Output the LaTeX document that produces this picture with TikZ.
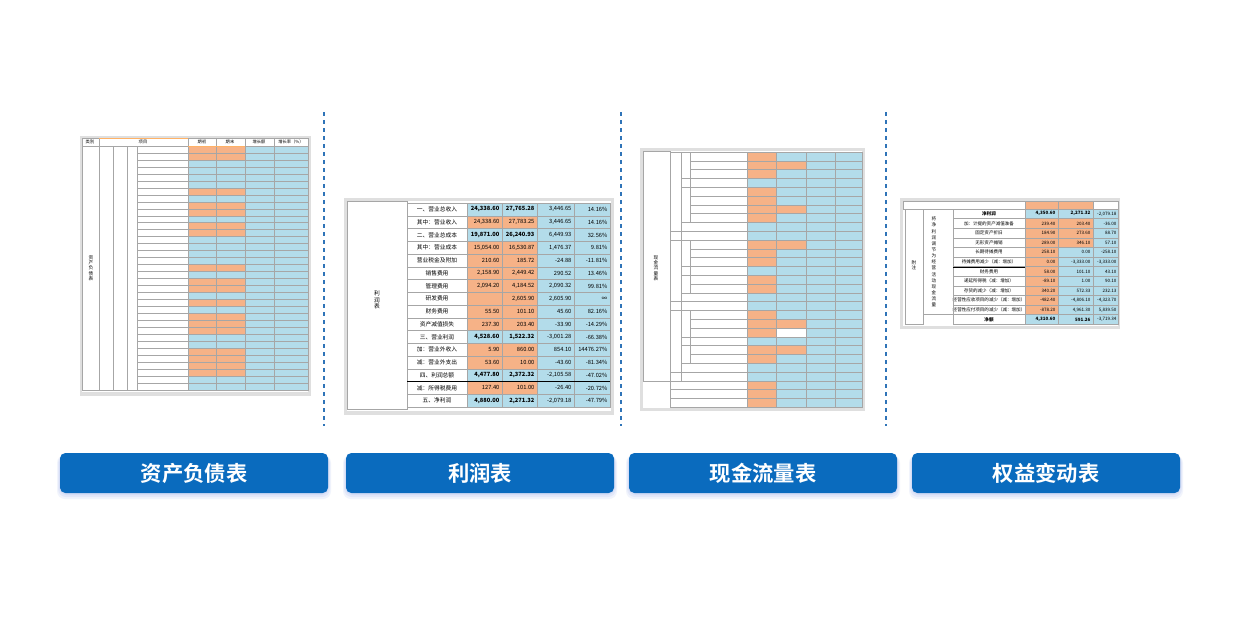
\documentclass[tikz,border=0pt]{standalone}
\usepackage{fontspec}
\setmainfont{Noto Sans CJK SC}
\newfontfamily\cjkb{Noto Sans CJK SC Bold}
\begin{document}
\definecolor{tOr}{HTML}{F6B287}
\definecolor{tBl}{HTML}{B3DCEA}
\definecolor{btn}{HTML}{0A6BBE}
\definecolor{dash}{HTML}{2F74B8}
\definecolor{shd}{HTML}{C9D4F4}
\newcommand\drow[9]{%
  \fill[#8] (#1,#6) rectangle (#2,{#6+#7});
  \fill[#9] (#2,#6) rectangle (#3,{#6+#7});
  \fill[tBl] (#3,#6) rectangle (#5,{#6+#7});
  \draw[gridl] (#1,#6) rectangle (#2,{#6+#7}) (#2,#6) rectangle (#3,{#6+#7})
     (#3,#6) rectangle (#4,{#6+#7}) (#4,#6) rectangle (#5,{#6+#7});}
\begin{tikzpicture}[x=0.75pt,y=-0.75pt,
  gridl/.style={draw=gray!70,line width=0.3pt},
  frame/.style={draw=gray!60,fill=white,line width=0.4pt,drop shadow={opacity=0.25,shadow xshift=0pt,shadow yshift=-1pt}},
  button/.style={rounded corners=4pt,fill=btn,text=white,minimum width=268*0.75pt,minimum height=40*0.75pt,
    font=\cjkb\fontsize{16}{16}\selectfont},
  sep/.style={draw=dash,line width=0.9pt,dash pattern=on 3pt off 3pt},
  tt/.style={font=\fontsize{4.3}{4.3}\selectfont,inner sep=1pt},
  vt/.style={font=\fontsize{4.3}{5}\selectfont,align=center,inner sep=0pt}]
\useasboundingbox (0,0) rectangle (1248,633);
\fill[white] (0,0) rectangle (1248,633);
\usetikzlibrary{shadows}
% separators
\foreach \x/\n in {324/s1,621/s2,886/s3}{
  \coordinate (\n a) at (\x,112); \coordinate (\n b) at (\x,426);
  \draw[sep] (\n a) -- (\n b);}
% buttons with shadow
\foreach \x/\n/\t in {194/b1/资产负债表,480/b2/利润表,763/b3/现金流量表,1046/b4/权益变动表}{
  \foreach \k/\o in {6/0.25,4/0.35,2/0.5}
    \fill[shd,opacity=\o,rounded corners=6pt] (\x-134-\k/2,455) rectangle (\x+134+\k/2,493+\k);
  \node[button] (\n) at (\x,473) {\t};}
%% ---------- Table 1 ----------
\fill[gray!25] (80,136) rectangle (311,396);
\fill[white] (82,138) rectangle (308,392);
\foreach \ca/\cb [count=\i] in {tOr/tOr,tOr/tOr,tBl/tBl,tBl/tBl,tBl/tBl,tBl/tBl,tOr/tOr,tBl/tBl,tOr/tOr,tOr/tOr,tBl/tBl,tOr/tOr,tOr/tOr,tBl/tBl,tBl/tBl,tBl/tBl,tBl/tBl,tOr/tOr,tBl/tBl,tOr/tOr,tOr/tOr,tBl/tBl,tOr/tOr,tBl/tBl,tOr/tOr,tOr/tOr,tOr/tOr,tBl/tBl,tBl/tBl,tOr/tOr,tOr/tOr,tOr/tOr,tOr/tOr,tBl/tBl,tBl/tBl}{
  \pgfmathsetmacro\yy{146+(\i-1)*6.97}
  \drow{188}{216}{245}{274}{308}{\yy}{6.97}{\ca}{\cb}
  \draw[gridl] (137,\yy) -- (188,\yy);}
\draw[gridl] (82,138) rectangle (308,390);
\foreach \x in {99,113,127,137,188,216,245,274}\draw[gridl] (\x,146) -- (\x,390);
\draw[gridl] (82,146) -- (308,146) (99,138)--(99,146) (188,138)--(188,146) (216,138)--(216,146) (245,138)--(245,146) (274,138)--(274,146);
\draw[orange!60,line width=0.6pt] (99,138) -- (188,138) (188,146)--(245,146);
\node[tt,font=\fontsize{3.2}{3.2}\selectfont] at (90,142) {类别};
\node[tt,font=\fontsize{3.2}{3.2}\selectfont] at (143,142) {项目};
\node[tt,font=\fontsize{3.2}{3.2}\selectfont] at (202,142) {期初};
\node[tt,font=\fontsize{3.2}{3.2}\selectfont] at (230,142) {期末};
\node[tt,font=\fontsize{3.2}{3.2}\selectfont] at (259,142) {增长额};
\node[tt,font=\fontsize{3.2}{3.2}\selectfont] at (291,142) {增长率（\%）};
\node[vt,font=\fontsize{3.5}{4}\selectfont] at (91,268) {资\\产\\负\\债\\表};
%% ---------- Table 2 ----------
\fill[gray!25] (344,198) rectangle (614,415);
\fill[white] (347,201) rectangle (611,411);
\draw[gridl] (347,201) rectangle (407,409);
\node[vt] at (377,300) {利\\润\\表};
\foreach \ca/\cb/\it/\a/\b/\c/\d/\bf [count=\i] in {
 tBl/tBl/一、营业总收入/24{,}338.60/27{,}765.28/3{,}446.65/14.16\%/1,
 tOr/tOr/其中：营业收入/24{,}338.60/27{,}783.25/3{,}446.65/14.16\%/0,
 tBl/tBl/二、营业总成本/19{,}871.00/26{,}240.93/6{,}449.93/32.56\%/1,
 tOr/tOr/其中：营业成本/15{,}054.00/16{,}530.87/1{,}476.37/9.81\%/0,
 tOr/tOr/营业税金及附加/210.60/185.72/-24.88/-11.81\%/0,
 tOr/tOr/销售费用/2{,}158.90/2{,}449.42/290.52/13.46\%/0,
 tOr/tOr/管理费用/2{,}094.20/4{,}184.52/2{,}090.32/99.81\%/0,
 tOr/tOr/研发费用//2{,}605.90/2{,}605.90/∞/0,
 tOr/tOr/财务费用/55.50/101.10/45.60/82.16\%/0,
 tOr/tOr/资产减值损失/237.30/203.40/-33.90/-14.29\%/0,
 tBl/tBl/三、营业利润/4{,}528.60/1{,}522.32/-3{,}001.28/-66.38\%/1,
 tOr/tOr/加：营业外收入/5.90/860.00/854.10/14476.27\%/0,
 tOr/tOr/减：营业外支出/53.60/10.00/-43.60/-81.34\%/0,
 tBl/tBl/四、利润总额/4{,}477.80/2{,}372.32/-2{,}105.58/-47.02\%/1,
 tOr/tOr/减：所得税费用/127.40/101.00/-26.40/-20.72\%/0,
 tBl/tBl/五、净利润/4{,}880.00/2{,}271.32/-2{,}079.18/-47.79\%/1}{
  \pgfmathsetmacro\yy{203+(\i-1)*12.75}
  \drow{467}{502}{537}{574}{610}{\yy}{12.75}{\ca}{\cb}
  \draw[gridl] (407,\yy) rectangle (467,\yy+12.75);
  \pgfmathsetmacro\ym{\yy+6.4}
  \node[tt] at (437,\ym) {\it};
  \ifnum\bf=1 \def\ff{\bfseries}\else\def\ff{}\fi
  \node[tt,anchor=east] at (501,\ym) {\ff\a};
  \node[tt,anchor=east] at (536,\ym) {\ff\b};
  \node[tt,anchor=east] at (573,\ym) {\c};
  \node[tt,anchor=east] at (609,\ym) {\d};}
\draw[black,line width=0.6pt] (407,381.5) -- (610,381.5);
%% ---------- Table 3 ----------
\fill[gray!25] (640,148) rectangle (865,411);
\fill[white] (643,151) rectangle (862,408);
\foreach \ca/\cb/\k [count=\i] in {tOr/tBl/0,tOr/tOr/0,tOr/tBl/0,tBl/tBl/1,tOr/tBl/0,tOr/tBl/0,tOr/tOr/0,tOr/tBl/0,tBl/tBl/1,tBl/tBl/2,tOr/tOr/0,tOr/tBl/0,tOr/tBl/0,tBl/tBl/1,tOr/tBl/0,tOr/tBl/0,tBl/tBl/1,tBl/tBl/2,tOr/tBl/0,tOr/tOr/0,tOr/white/0,tBl/tBl/1,tOr/tOr/0,tOr/tBl/0,tBl/tBl/1,tBl/tBl/2,tOr/tBl/3,tOr/tBl/3,tOr/tBl/3}{
  \pgfmathsetmacro\yy{152+(\i-1)*8.8}
  \drow{747}{776}{806}{835}{862}{\yy}{8.8}{\ca}{\cb}
  \ifnum\k=0 \draw[gridl] (690,\yy) rectangle (747,\yy+8.8);\fi
  \ifnum\k=1 \draw[gridl] (681,\yy) rectangle (747,\yy+8.8);\fi
  \ifnum\k=2 \draw[gridl] (670,\yy) rectangle (747,\yy+8.8);\fi
  \ifnum\k=3 \draw[gridl] (670,\yy) rectangle (747,\yy+8.8);\fi}
\draw[gridl] (643,151) rectangle (670,381.2);
\foreach \t/\b in {152/240,240/310.4,310.4/381.2}\draw[gridl] (670,\t) rectangle (681,\b);
\foreach \t/\b in {152/187.2,187.2/222.4,240/266.4,266.4/292.8,310.4/336.8,336.8/363.2}\draw[gridl] (681,\t) rectangle (690,\b);
\node[vt,font=\fontsize{3.5}{4}\selectfont] at (656,268) {现\\金\\流\\量\\表};
%% ---------- Table 4 ----------
\fill[gray!25] (900,198) rectangle (1120,329);
\fill[white] (903,201) rectangle (1118,326);
\fill[tOr] (1025,201) rectangle (1093,209);
\draw[gridl] (903,201) rectangle (1118,209) (1025,201) -- (1025,209) (1058,201)--(1058,209) (1093,201)--(1093,209);
\foreach \ca/\cb/\it/\a/\b/\c/\d/\bf [count=\i] in {
 tBl/tBl/净利润/4{,}350.60/2{,}271.32/-2{,}079.18/-47.79\%/1,
 tOr/tOr/加：计提的资产减值准备/239.40/203.40/-36.00/-15.04\%/0,
 tOr/tOr/固定资产折旧/184.90/273.60/88.70/47.97\%/0,
 tOr/tOr/无形资产摊销/289.00/346.10/57.10/19.76\%/0,
 tOr/tBl/长期待摊费用/258.10/0.00/-258.10/-100.00\%/0,
 tOr/tBl/待摊费用减少（减：增加）/0.00/-3{,}333.00/-3{,}333.00/0.00\%/0,
 tOr/tBl/财务费用/58.00/101.10/43.10/74.31\%/0,
 tOr/tBl/递延所得税（减：增加）/-89.10/1.00/90.10/-101.12\%/0,
 tOr/tBl/存货的减少（减：增加）/340.20/572.33/232.13/68.23\%/0,
 tOr/tBl/经营性应收项目的减少（减：增加）/-482.40/-4{,}806.10/-4{,}323.70/896.29\%/0,
 tOr/tBl/经营性应付项目的减少（减：增加）/-878.20/4{,}961.30/5{,}839.50/-664.94\%/0,
 tBl/tBl/净额/4{,}310.60/591.26/-3{,}719.34/-86.28\%/1}{
  \pgfmathsetmacro\yy{209+(\i-1)*9.6}
  \drow{1025}{1058}{1093}{1118}{1118}{\yy}{9.6}{\ca}{\cb}
  \draw[gridl] (953,\yy) rectangle (1025,\yy+9.6);
  \pgfmathsetmacro\ym{\yy+4.8}
  \ifnum\bf=1 \def\ff{\bfseries}\else\def\ff{}\fi
  \node[tt,font=\fontsize{3.4}{3.4}\selectfont] at (989,\ym) {\ff\it};
  \node[tt,anchor=east,font=\fontsize{3.4}{3.4}\selectfont] at (1057,\ym) {\ff\a};
  \node[tt,anchor=east,font=\fontsize{3.4}{3.4}\selectfont] at (1092,\ym) {\ff\b};
  \node[tt,anchor=east,font=\fontsize{3.4}{3.4}\selectfont] at (1118,\ym) {\c};}
\draw[gridl] (905,209) rectangle (923,324) (923,209) rectangle (953,314);
\draw[black,line width=0.5pt] (953,267.8) -- (1025,267.8);
\node[vt,font=\fontsize{3.4}{4}\selectfont] at (914,265) {附\\注};
\node[vt,font=\fontsize{3.4}{4.6}\selectfont] at (934,262) {将\\净\\利\\润\\调\\节\\为\\经\\营\\活\\动\\现\\金\\流\\量};
\end{tikzpicture}
\end{document}
